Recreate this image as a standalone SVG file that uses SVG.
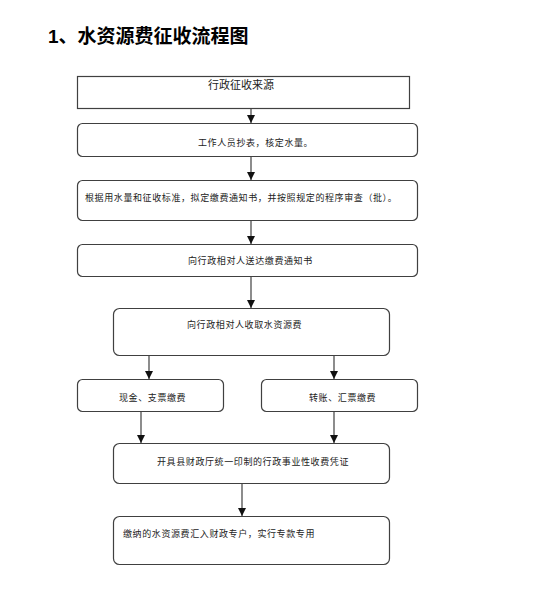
<svg xmlns="http://www.w3.org/2000/svg" width="554" height="602" viewBox="0 0 554 602">
<style>
.box{fill:#fff;stroke:#404040;stroke-width:1.2}
.t{font-family:"Liberation Sans","Noto Sans CJK SC",sans-serif;font-size:9px;letter-spacing:0.6px;fill:#222}
.c{stroke:#404040;stroke-width:1.2;fill:none;marker-end:url(#ah)}
</style>
<defs>
<marker id="ah" viewBox="0 0 8 8" refX="8" refY="4" markerWidth="8" markerHeight="8" markerUnits="userSpaceOnUse" orient="auto">
<path d="M0,0 L8,4 L0,8 z" fill="#111"/>
</marker>
</defs>
<rect width="554" height="602" fill="#fff"/>
<text x="48" y="43" style="font-family:'Liberation Sans','Noto Sans CJK SC',sans-serif;font-size:19px;font-weight:bold;fill:#000">1、水资源费征收流程图</text>
<g id="connectors">
<line class="c" x1="251" y1="108" x2="251" y2="123"/>
<line class="c" x1="251" y1="156" x2="251" y2="180"/>
<line class="c" x1="251" y1="220" x2="251" y2="244"/>
<line class="c" x1="251" y1="276" x2="251" y2="308"/>
<line class="c" x1="149" y1="355" x2="149" y2="379"/>
<line class="c" x1="334" y1="355" x2="334" y2="379"/>
<line class="c" x1="141" y1="411" x2="141" y2="443"/>
<line class="c" x1="334" y1="411" x2="334" y2="443"/>
<line class="c" x1="242" y1="483" x2="242" y2="516"/>
</g>
<g id="n1"><rect class="box" x="77.5" y="76.5" width="332" height="32"/><text x="208" y="89" style="font-family:'Liberation Sans','Noto Sans CJK SC',sans-serif;font-size:11px;fill:#222">行政征收来源</text></g>
<g id="n2"><rect class="box" x="77.5" y="123.5" width="340" height="33" rx="5"/><text class="t" x="198" y="145.5">工作人员抄表，核定水量。</text></g>
<g id="n3"><rect class="box" x="77.5" y="180.5" width="340" height="40" rx="5"/><text class="t" x="85" y="200.5">根据用水量和征收标准，拟定缴费通知书，并按照规定的程序审查（批）。</text></g>
<g id="n4"><rect class="box" x="77.5" y="244.5" width="340" height="32" rx="5"/><text class="t" x="188" y="263.5">向行政相对人送达缴费通知书</text></g>
<g id="n5"><rect class="box" x="113.5" y="308.5" width="276" height="47" rx="6"/><text class="t" x="187" y="327.5">向行政相对人收取水资源费</text></g>
<g id="n6"><rect class="box" x="77.5" y="379.5" width="146" height="32" rx="5"/><text class="t" x="119" y="400.5">现金、支票缴费</text></g>
<g id="n7"><rect class="box" x="261.5" y="379.5" width="156" height="32" rx="5"/><text class="t" x="309" y="400.5">转账、汇票缴费</text></g>
<g id="n8"><rect class="box" x="113.5" y="443.5" width="276" height="40" rx="6"/><text class="t" x="157" y="464.5">开具县财政厅统一印制的行政事业性收费凭证</text></g>
<g id="n9"><rect class="box" x="113.5" y="516.5" width="276" height="48" rx="6"/><text class="t" x="123" y="536.5">缴纳的水资源费汇入财政专户，实行专款专用</text></g>
</svg>
